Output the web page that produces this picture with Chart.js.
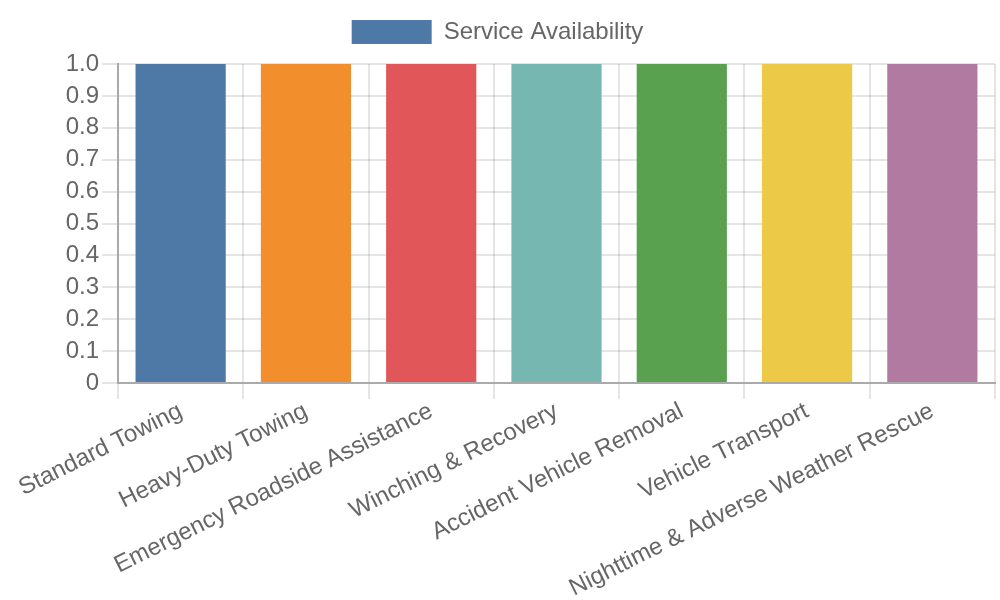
<!DOCTYPE html>
<html>
<head>
<meta charset="utf-8">
<script src="https://cdn.jsdelivr.net/npm/chart.js@4/dist/chart.umd.min.js"></script>
<style>
  html, body { margin: 0; padding: 0; background: #fff; }
  #wrap { width: 1000px; height: 600px; }
</style>
</head>
<body>
<div id="wrap"><canvas id="chart"></canvas></div>
<script>
'use strict';

var services = [
  'Standard Towing',
  'Heavy-Duty Towing',
  'Emergency Roadside Assistance',
  'Winching & Recovery',
  'Accident Vehicle Removal',
  'Vehicle Transport',
  'Nighttime & Adverse Weather Rescue'
];
var availability = [1, 1, 1, 1, 1, 1, 1];
var barColors = ['#4e79a7', '#f28e2b', '#e15759', '#76b7b2', '#59a14f', '#edc948', '#b07aa1'];
var seriesName = 'Service Availability';

Chart.defaults.font.family = '"Liberation Sans", Arial, sans-serif';
Chart.defaults.font.size = 24;
Chart.defaults.color = '#666';

// a bit more room under the legend
var legendGap = {
  id: 'legendGap',
  beforeInit: function(chart) {
    var fit = chart.legend.fit;
    chart.legend.fit = function() {
      fit.bind(chart.legend)();
      this.height += 10;
    };
  }
};

var ctx = document.getElementById('chart').getContext('2d');

new Chart(ctx, {
  type: 'bar',
  data: {
    labels: services,
    datasets: [{
      label: seriesName,
      data: availability,
      backgroundColor: barColors,
      borderWidth: 0
    }]
  },
  options: {
    responsive: true,
    maintainAspectRatio: false,
    animation: false,
    layout: { padding: { right: 5 } },
    plugins: {
      legend: {
        labels: { boxWidth: 80, boxHeight: 24, padding: 20 }
      },
      tooltip: { enabled: false }
    },
    scales: {
      x: {
        grid: { lineWidth: 2, tickLength: 16, color: 'rgba(0,0,0,0.1)' },
        border: { width: 2, color: '#aaa' },
        ticks: { padding: -2, minRotation: 26.5, maxRotation: 26.5 },
        afterFit: function(scale) { scale.height = 217; }
      },
      y: {
        min: 0,
        max: 1,
        grid: { lineWidth: 2, tickLength: 16, color: 'rgba(0,0,0,0.1)' },
        border: { width: 2, color: '#aaa' },
        ticks: { stepSize: 0.1, padding: 3, autoSkip: false },
        afterFit: function(scale) { scale.width = 118; }
      }
    }
  },
  plugins: [legendGap]
});
</script>
</body>
</html>
